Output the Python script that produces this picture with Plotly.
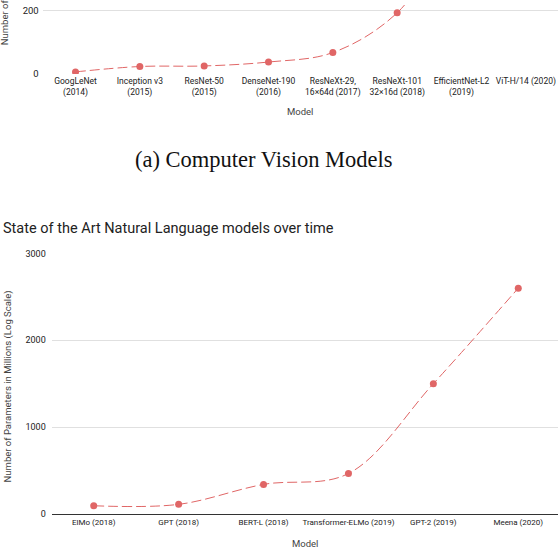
import plotly.graph_objects as go

W, H = 558, 552
RED = "#E06666"
FONT = "Roboto"

# ---- data ----
cv_models = ["GoogLeNet<br>(2014)", "Inception v3<br>(2015)", "ResNet-50<br>(2015)",
             "DenseNet-190<br>(2016)", "ResNeXt-29,<br>16×64d (2017)",
             "ResNeXt-101<br>32×16d (2018)", "EfficientNet-L2<br>(2019)", "ViT-H/14 (2020)"]
cv_params = [6.8, 23.8, 25.6, 38, 68, 194, 480, 632]

nlp_models = ["ElMo (2018)", "GPT (2018)", "BERT-L (2018)", "Transformer-ELMo (2019)",
              "GPT-2 (2019)", "Meena (2020)"]
nlp_params = [94, 110, 340, 465, 1500, 2600]

cv_ticks = [0, 200]
nlp_ticks = [0, 1000, 2000, 3000]

def px_y(p):
    return 1 - p / H

def px_x(p):
    return p / W

line_style = dict(shape="spline", smoothing=1, dash="10px,4px", width=1, color=RED)
marker_style = dict(size=7, color=RED)

fig = go.Figure()
fig.add_trace(go.Scatter(x=cv_models, y=cv_params, mode="lines+markers",
                         line=line_style, marker=marker_style, xaxis="x", yaxis="y",
                         hoverinfo="skip"))
fig.add_trace(go.Scatter(x=nlp_models, y=nlp_params, mode="lines+markers",
                         line=line_style, marker=marker_style, xaxis="x2", yaxis="y2",
                         hoverinfo="skip"))

grid = "#e0e0e0"
fig.update_layout(
    width=W, height=H,
    margin=dict(l=0, r=0, t=0, b=0),
    paper_bgcolor="white", plot_bgcolor="white",
    showlegend=False,
    font=dict(family=FONT, color="#222"),
    title=dict(text="State of the Art Natural Language models over time",
               x=px_x(3), xanchor="left", xref="paper",
               y=px_y(228), yanchor="middle", yref="container",
               font=dict(family=FONT, size=14.5, color="#222")),
    xaxis=dict(domain=[px_x(42.7), 1], range=[-0.51, 7.5], type="category",
               showgrid=False, zeroline=False, showline=False, ticks="",
               ticklabelstandoff=0,
               tickfont=dict(size=8.5, color="#222"), anchor="y", fixedrange=True),
    yaxis=dict(domain=[px_y(70.3), 1], range=[0, 218.7], tickvals=cv_ticks,
               showgrid=True, gridcolor=grid, gridwidth=1,
               zeroline=True, zerolinecolor="rgba(0,0,0,0)", showline=False, ticks="",
               ticklabelstandoff=3,
               tickfont=dict(size=9.5, color="#222"), anchor="x"),
    xaxis2=dict(domain=[px_x(51.7), 1], range=[-0.495, 5.468], type="category",
                showgrid=False, zeroline=False, showline=True, linecolor="#333", linewidth=1,
                ticks="", tickfont=dict(size=8, color="#222"), anchor="y2"),
    yaxis2=dict(domain=[px_y(518.3), px_y(253)], range=[0, 3000], tickvals=nlp_ticks,
                showgrid=True, gridcolor=grid, gridwidth=1,
                zeroline=False, showline=False, ticks="",
                ticklabelstandoff=5,
                tickfont=dict(size=9, color="#222"), anchor="x2"),
    annotations=[
        dict(text="Number of Parameters in Millions (Log Scale)", textangle=-90,
             xref="paper", yref="paper", x=px_x(5), y=px_y(43),
             xanchor="center", yanchor="bottom", showarrow=False,
             font=dict(family=FONT, size=9.5, color="#444")),
        dict(text="Model", xref="x domain", yref="paper", x=0.5, y=px_y(108),
             xanchor="center", yanchor="middle", showarrow=False,
             font=dict(family=FONT, size=9.5, color="#444")),
        dict(text="(a) Computer Vision Models", xref="paper", yref="paper",
             x=px_x(264), y=px_y(157), xanchor="center", yanchor="middle", showarrow=False,
             font=dict(family="Liberation Serif", size=22.5, color="#111")),
        dict(text="Number of Parameters in Millions (Log Scale)", textangle=-90,
             xref="paper", yref="paper", x=px_x(7.5), y=px_y(389),
             xanchor="center", yanchor="middle", showarrow=False,
             font=dict(family=FONT, size=9.5, color="#444")),
        dict(text="Model", xref="x2 domain", yref="paper", x=0.5, y=px_y(548),
             xanchor="center", yanchor="middle", showarrow=False,
             font=dict(family=FONT, size=9.5, color="#444")),
    ],
)

fig.write_html("out.html", config={"displayModeBar": False},
               post_script="document.body.style.margin='0';document.body.style.overflow='hidden';")
